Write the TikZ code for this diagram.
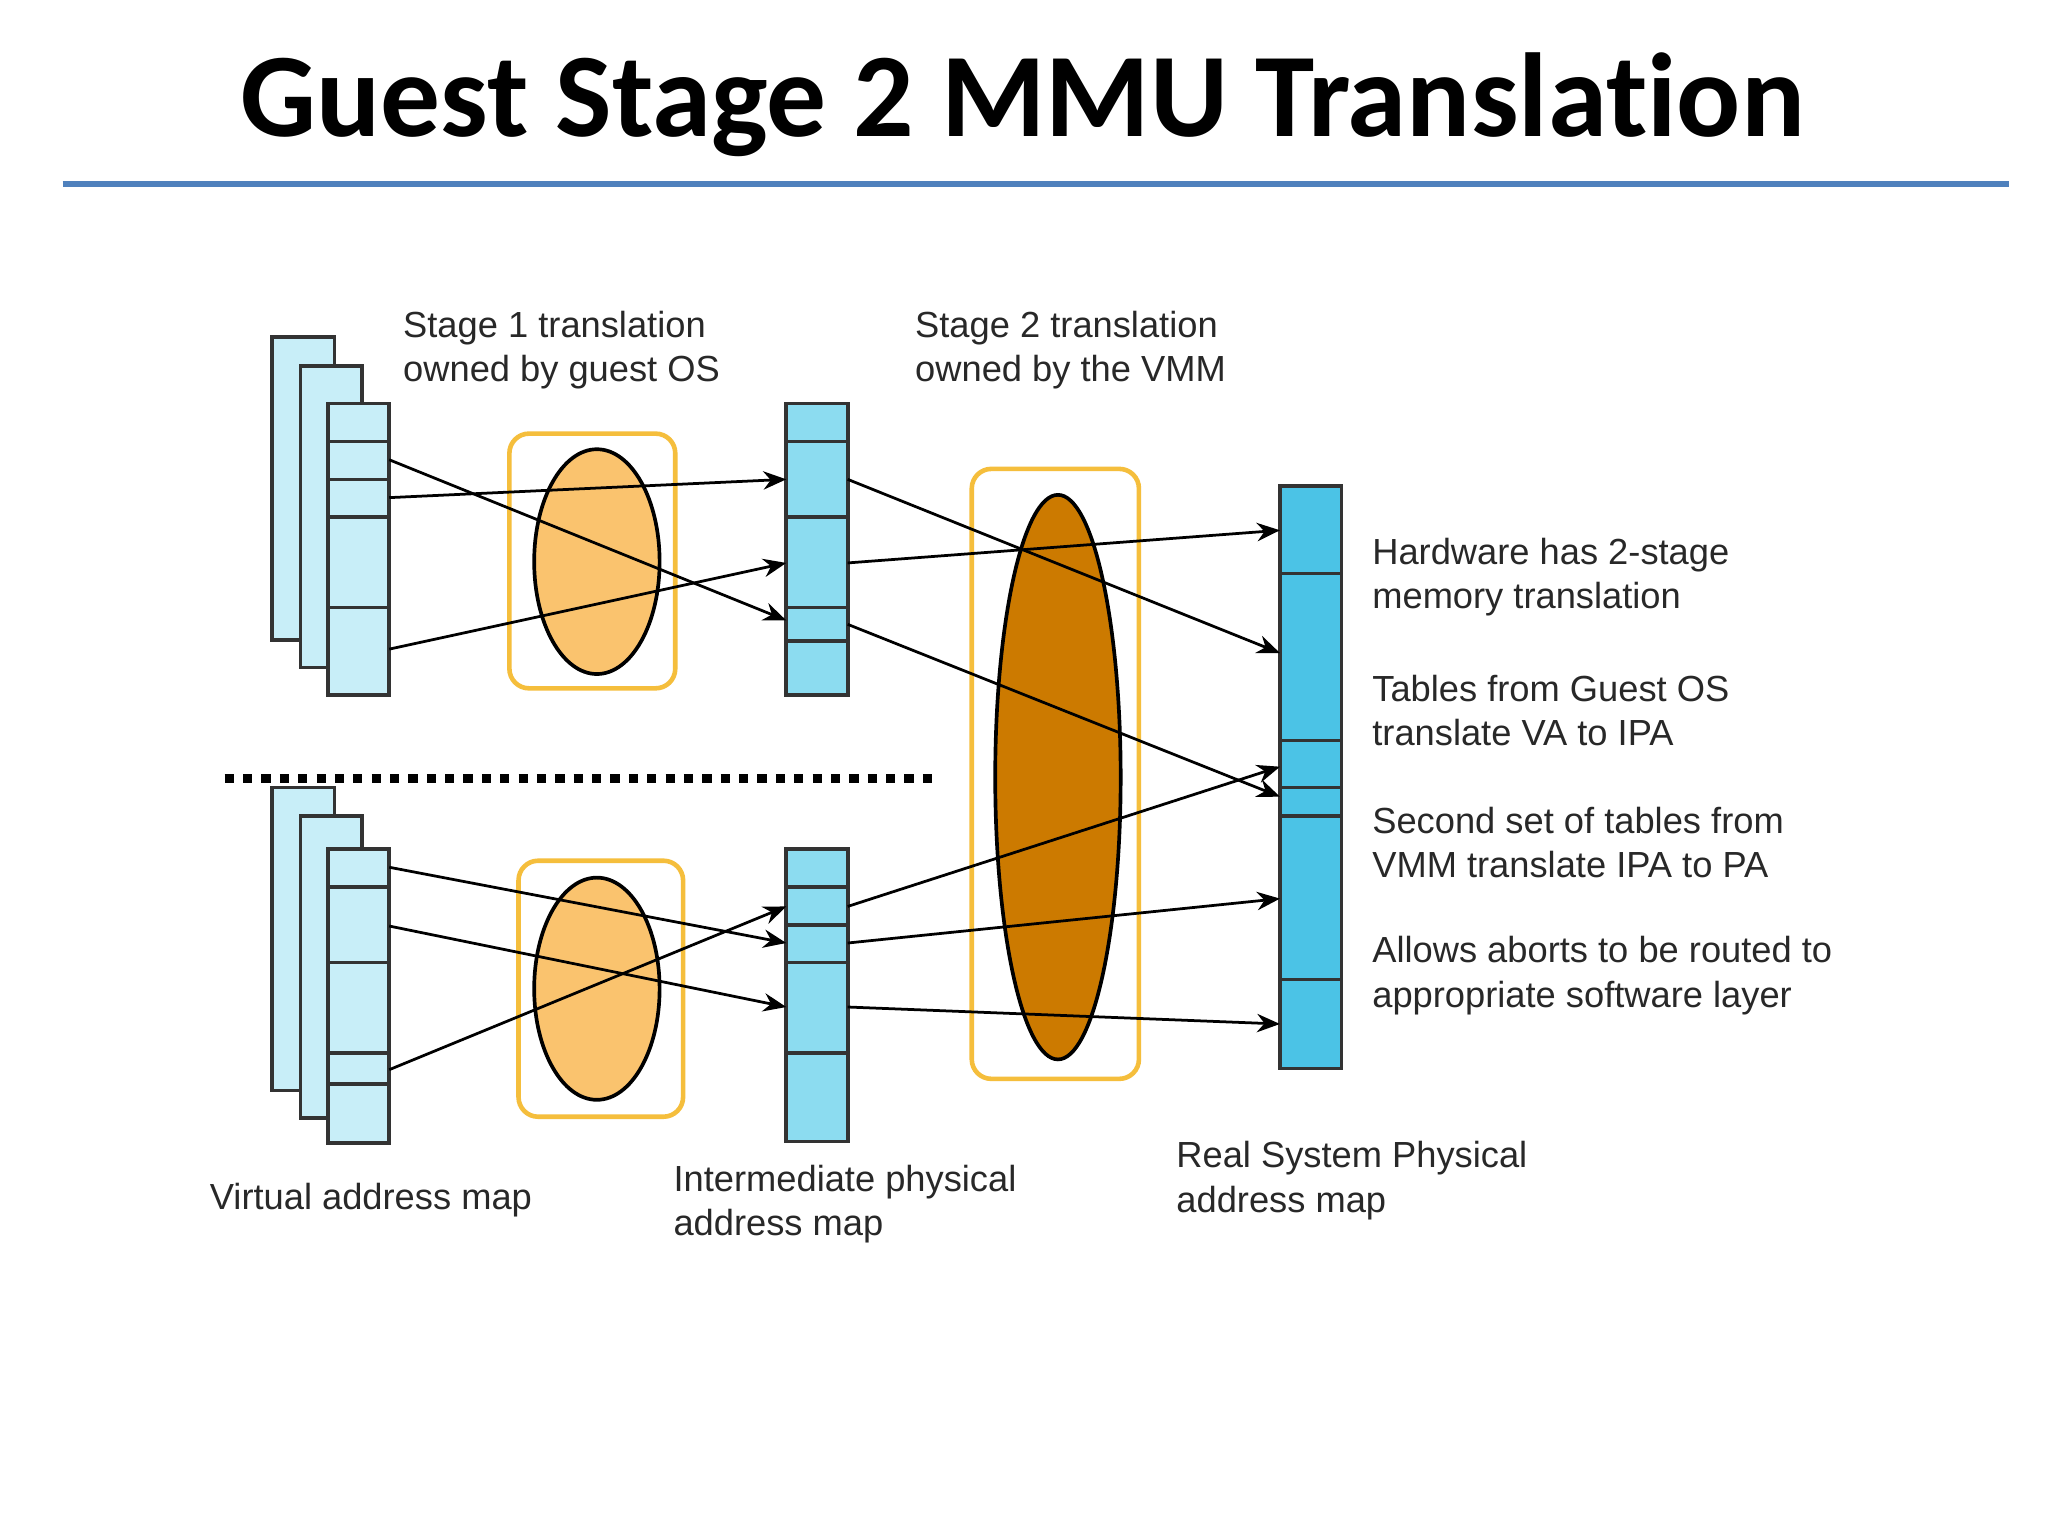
\documentclass[tikz,border=0pt]{standalone}
\usepackage{fontspec}
\setmainfont{Liberation Sans}
\newfontfamily\titlefont[Ligatures=NoCommon]{Carlito}
\usetikzlibrary{arrows.meta,shapes.geometric}
\definecolor{vacol}{RGB}{200,238,248}
\definecolor{ipacol}{RGB}{140,220,240}
\definecolor{pacol}{RGB}{75,195,230}
\definecolor{boxcol}{RGB}{245,190,60}
\definecolor{s1col}{RGB}{250,195,110}
\definecolor{s2col}{RGB}{204,122,0}
\definecolor{rulecol}{RGB}{79,129,189}
\definecolor{txtcol}{RGB}{40,40,40}
\tikzset{
  bar/.style={draw=black!80,line width=0.8pt},
  stagebox/.style={draw=boxcol,line width=1pt,rounded corners=0.15cm,fill=white},
  stageell/.style={draw=black,line width=0.8pt,ellipse,inner sep=0pt},
  map/.style={-{Stealth[length=5pt,width=4pt]},line width=0.6pt},
  lbl/.style={anchor=west,align=left,text=txtcol,font=\fontsize{7.9}{9.7}\selectfont,inner sep=0pt},
}
\begin{document}
\begin{tikzpicture}[x=0.01cm,y=-0.01cm]
\useasboundingbox (0,0) rectangle (1568,1176);
\fill[white] (0,0) rectangle (1568,1176);
% title
\node[font=\titlefont\bfseries\fontsize{26}{31}\selectfont] (title) at (783,80) {Guest Stage 2 MMU Translation};
\draw[rulecol,line width=1.2pt] (48,141) -- (1538,141);

% virtual address maps
\foreach \dy in {0,345}{
  \draw[bar,fill=vacol] (208,258+\dy) rectangle (256,490+\dy);
  \draw[bar,fill=vacol] (230,280+\dy) rectangle (277,511+\dy);
}
\draw[bar,fill=vacol] (251,309) rectangle (298,532);
\foreach \y in {338,367,396,465} \draw[bar] (251,\y) -- (298,\y);
\draw[bar,fill=vacol] (251,650) rectangle (298,875);
\foreach \y in {679,737,806,830} \draw[bar] (251,\y) -- (298,\y);

% stage 1 boxes
\draw[stagebox] (390,332) rectangle (517,527);
\node[stageell,fill=s1col,minimum width=0.96cm,minimum height=1.72cm] (e1) at (457,430) {};
\draw[stagebox] (397,659) rectangle (523,855);
\node[stageell,fill=s1col,minimum width=0.96cm,minimum height=1.70cm] (e2) at (457,757) {};

% intermediate maps
\draw[bar,fill=ipacol] (602,309) rectangle (649,532);
\foreach \y in {338,396,465,491} \draw[bar] (602,\y) -- (649,\y);
\draw[bar,fill=ipacol] (602,650) rectangle (649,874);
\foreach \y in {679,708,737,806} \draw[bar] (602,\y) -- (649,\y);

% stage 2 box
\draw[stagebox] (744,359) rectangle (872,826);
\node[stageell,fill=s2col,minimum width=0.96cm,minimum height=4.32cm] (e3) at (810,595) {};

% physical map
\draw[bar,fill=pacol] (980,372) rectangle (1027,818);
\foreach \y in {439,567,603,625,750} \draw[bar] (980,\y) -- (1027,\y);

% dotted separator
\draw[line width=2pt,dotted] (172,596) -- (714,596);

% endpoints
\coordinate (va1) at (298,352); \coordinate (va2) at (298,381); \coordinate (va3) at (298,497);
\coordinate (va4) at (298,664); \coordinate (va5) at (298,709); \coordinate (va6) at (298,819);
\coordinate (ipa1) at (602,367); \coordinate (ipa2) at (602,431); \coordinate (ipa3) at (602,475);
\coordinate (ipa4) at (602,694); \coordinate (ipa5) at (602,722); \coordinate (ipa6) at (602,771);
\coordinate (ipo1) at (649,367); \coordinate (ipo2) at (649,431); \coordinate (ipo3) at (649,478);
\coordinate (ipo4) at (649,694); \coordinate (ipo5) at (649,722); \coordinate (ipo6) at (649,771);
\coordinate (pa1) at (980,406); \coordinate (pa2) at (980,500); \coordinate (pa3) at (980,587);
\coordinate (pa4) at (980,610); \coordinate (pa5) at (980,688); \coordinate (pa6) at (980,784);

\draw[map] (va1) -- (ipa3);
\draw[map] (va2) -- (ipa1);
\draw[map] (va3) -- (ipa2);
\draw[map] (va4) -- (ipa5);
\draw[map] (va5) -- (ipa6);
\draw[map] (va6) -- (ipa4);
\draw[map] (ipo1) -- (pa2);
\draw[map] (ipo2) -- (pa1);
\draw[map] (ipo3) -- (pa4);
\draw[map] (ipo4) -- (pa3);
\draw[map] (ipo5) -- (pa5);
\draw[map] (ipo6) -- (pa6);

% labels
\node[lbl] (l1) at (308,268) {Stage 1 translation\\owned by guest OS};
\node[lbl] (l2) at (700,268) {Stage 2 translation\\owned by the VMM};
\node[lbl] (r1) at (1050,442) {Hardware has 2-stage\\memory translation};
\node[lbl] (r2) at (1050,544) {Tables from Guest OS\\translate VA to IPA};
\node[lbl] (r3) at (1050,645) {Second set of tables from\\VMM translate IPA to PA};
\node[lbl] (r4) at (1050,747) {Allows aborts to be routed to\\appropriate software layer};
\node[lbl] (b1) at (160,919) {Virtual address map};
\node[lbl] (b2) at (515,922) {Intermediate physical\\address map};
\node[lbl] (b3) at (900,904) {Real System Physical\\address map};
\end{tikzpicture}
\end{document}
